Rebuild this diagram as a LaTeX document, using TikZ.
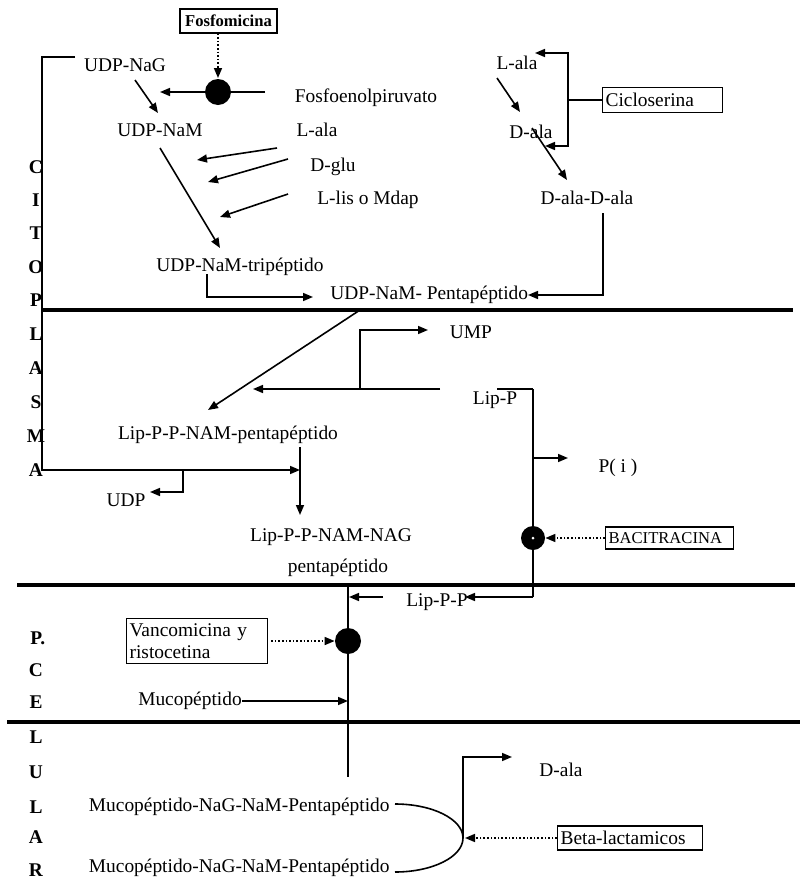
\documentclass[tikz,border=0pt]{standalone}
\usepackage{fontspec}
\setmainfont{Liberation Serif}
\usetikzlibrary{arrows.meta}
\begin{document}
\begin{tikzpicture}[x=0.5pt,y=-0.5pt,
  txt/.style={inner sep=0pt,font=\fontsize{9.7}{11}\selectfont},
  lett/.style={inner sep=0pt,font=\fontsize{9.7}{11}\selectfont\bfseries},
  ln/.style={line width=0.8pt},
  arr/.style={ln,-{Triangle[length=5pt,width=4pt]}},
  arrs/.style={ln,{Triangle[length=5pt,width=4pt]}-{Triangle[length=5pt,width=4pt]}},
  dotarr/.style={arr,densely dotted},
  membrane/.style={line width=2pt},
  blob/.style={circle,fill=black,inner sep=0pt,minimum size=13pt},
  abox/.style={draw,line width=0.6pt,inner xsep=1.5pt,inner ysep=0pt,align=left,font=\fontsize{9.7}{11}\selectfont}
]
\useasboundingbox (0,0) rectangle (804,879);

% ---- nodes ----
\node[abox,font=\fontsize{8.3}{10}\selectfont\bfseries,minimum width=48.5pt,minimum height=12pt,align=center] (fosfo) at (228.5,21) {Fosfomicina};
\node[txt] (udpnag) at (125,65) {UDP-NaG};
\node[txt] (fosfoenol) at (366,98) {Fosfoenolpiruvato};
\node[txt] (udpnam) at (160,130) {UDP-NaM};
\node[txt] (lala1) at (317,130) {L-ala};
\node[txt] (dglu) at (333,167) {D-glu};
\node[txt] (llis) at (368,200) {L-lis o Mdap};
\node[txt] (trip) at (240,267) {UDP-NaM-tripéptido};
\node[txt,anchor=west] (penta) at (330,295) {UDP-NaM- Pentapéptido};
\node[txt] (lala2) at (517,63) {L-ala};
\node[abox,anchor=west,text width=57pt,minimum height=12.5pt] (ciclo) at (602,100) {Cicloserina};
\node[txt] (dala1) at (531,132) {D-ala};
\node[txt] (dalad) at (587,198) {D-ala-D-ala};
\node[txt] (ump) at (471,332) {UMP};
\node[txt] (lipp) at (495,400) {Lip-P};
\node[txt] (lipnam) at (228,435) {Lip-P-P-NAM-pentapéptido};
\node[txt] (pi) at (618,468) {P( i )};
\node[txt] (udp) at (126,500) {UDP};
\node[txt] (lipnag) at (331,537) {Lip-P-P-NAM-NAG};
\node[txt] (penta2) at (338,568) {pentapéptido};
\node[abox,anchor=west,text width=61pt,minimum height=11pt,font=\fontsize{8.3}{10}\selectfont] (baci) at (605,538) {BACITRACINA};
\node[txt] (lippp) at (437,602) {Lip-P-P};
\node[abox,anchor=west,text width=67.5pt,minimum height=22.5pt] (vanco) at (126,641) {Vancomicina y\\ristocetina};
\node[txt] (muco) at (190,701) {Mucopéptido};
\node[txt] (dala3) at (561,770) {D-ala};
\node[abox,anchor=west,text width=69.5pt,minimum height=12pt] (beta) at (557,838) {Beta-lactamicos};
\node[txt,anchor=east] (mucoa) at (390,807) {Mucopéptido-NaG-NaM-Pentapéptido};
\node[txt,anchor=east] (mucob) at (390,868) {Mucopéptido-NaG-NaM-Pentapéptido};

% side letters
\foreach \t/\y [count=\i] in {C/167,I/200,T/233,O/267,P/300,L/334,A/368,S/402,M/436,A/470}
  \node[lett] (u\i) at (36,\y) {\t};
\node[lett,anchor=west] (w0) at (30,638) {P.};
\foreach \t/\y [count=\i] in {C/670,E/702,L/737,U/772,L/807,A/837,R/870}
  \node[lett] (w\i) at (36,\y) {\t};

% ---- membranes ----
\draw[membrane] (42,310) coordinate (m1a) -- (793,310) coordinate (m1b);
\draw[membrane] (17,585) coordinate (m2a) -- (795,585) coordinate (m2b);
\draw[membrane] (7,722) coordinate (m3a) -- (800,722) coordinate (m3b);

% ---- cytoplasm connectors ----
\coordinate (c1c) at (218,92);
\draw[dotarr] (fosfo.south -| c1c) -- (218,78) coordinate (c1top);
\draw[ln] (265,92) coordinate (pepin) -- (c1c);
\draw[arr] (c1c) -- (160,92) coordinate (pepout);
\node[blob] (c1) at (c1c) {};

\draw[arr] (135,80) coordinate (nag1) -- (158,113) coordinate (nam0);
\draw[arr] (277,148) coordinate (la1) -- (197,160) coordinate (la2);
\draw[arr] (288,159) coordinate (dg1) -- (208,182) coordinate (dg2);
\draw[arr] (288,194) coordinate (ll1) -- (220,217) coordinate (ll2);
\draw[arr] (160,148) coordinate (nm1) -- (220,248) coordinate (nm2);
\draw[arr] (207,274) coordinate (tr1) -- (207,297) -- (313,297) coordinate (tr2);
\draw[arr] (603,213) coordinate (dd1) -- (603,295) -- (528,295) coordinate (dd2);
\draw[arr] (497,78) coordinate (ld1) -- (520,112) coordinate (ld2);
\draw[arr] (532,128) coordinate (da1) -- (567,180) coordinate (da2);
\draw[arrs] (535,53) coordinate (cy1) -| (568,100) coordinate (cyj) |- (545,146) coordinate (cy2);
\draw[ln] (ciclo.west) -- (cyj);

% bracket along the membrane
\draw[arr] (75,57) coordinate (br0) -- (42,57) -- (42,470) -- (300,470) coordinate (br1);
\draw[arr] (183,470) coordinate (ud0) -- (183,492) -- (150,492) coordinate (ud1);
\draw[arr] (360,310) coordinate (pp0) -- (208,410) coordinate (pp1);
\draw[arr] (300,447) coordinate (ln0) -- (300,515) coordinate (ln1);

% UMP / Lip-P cycle
\draw[ln] (533,389) coordinate (lp0) -- (497,389);
\draw[arr] (440,389) -- (253,389) coordinate (lp1);
\draw[arr] (360,389) -- (360,330) -- (428,330) coordinate (um1);
\draw[ln] (lp0) -- (533,597) coordinate (lp2);
\draw[arr] (lp2) -- (465,597) coordinate (lp3);
\draw[arr] (533,458) coordinate (pi0) -- (568,458) coordinate (pi1);
\node[blob,minimum size=12pt] (c2) at (533,538) {};
\fill[white] (c2.center) circle (1.5);
\draw[dotarr] (baci.west) -- (c2.east);

% ---- cell wall ----
\draw[ln] (348,585) coordinate (v0) -- (348,777) coordinate (v1);
\draw[arr] (383,597) coordinate (lq0) -- (349,597) coordinate (lq1);
\node[blob] (c3) at (348,641) {};
\draw[dotarr] ([xshift=1.5pt]vanco.east) -- (c3.west);
\draw[arr] (muco.east) -- (muco.east -| v0);

% beta-lactam loop
\draw[ln] (395,804) coordinate (ar0) .. controls (432.6,804) and (463,819.2) .. (463,838) coordinate (arm)
  .. controls (463,856.8) and (432.6,872) .. (395,872) coordinate (ar1);
\draw[arr] (arm) -- (463,757) -- (512,757) coordinate (dl1);
\draw[dotarr] (beta.west) -- (465,838);
\end{tikzpicture}
\end{document}
